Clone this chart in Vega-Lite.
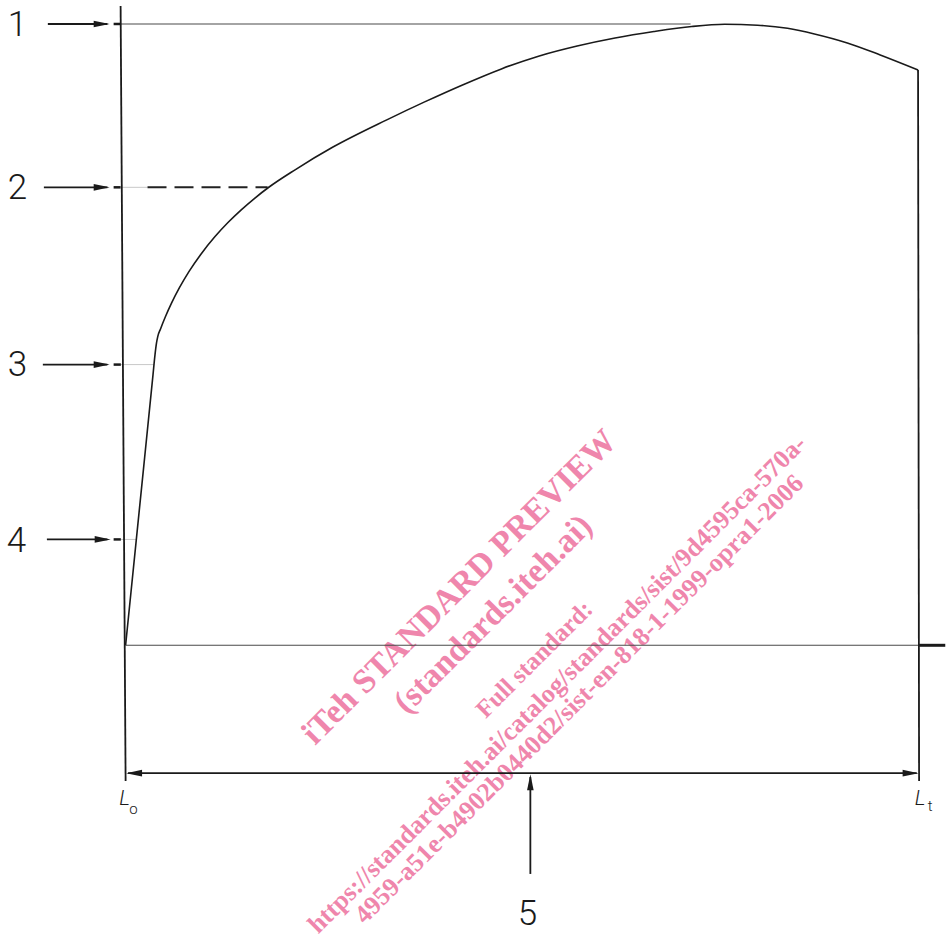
{
  "$schema": "https://vega.github.io/schema/vega-lite/v6.json",
  "width": 947,
  "height": 938,
  "autosize": {"type": "fit", "contains": "padding"},
  "padding": 0,
  "background": "white",
  "config": {"view": {"stroke": null}},
  "datasets": {
    "curve": [
      {"e": 0, "f": 0},
      {"e": 1.7, "f": 21.44},
      {"e": 3.455, "f": 43.57},
      {"e": 3.706, "f": 46.78},
      {"e": 3.9, "f": 48.7},
      {"e": 4.058, "f": 49.73},
      {"e": 4.4, "f": 50.92},
      {"e": 5.0, "f": 52.83},
      {"e": 5.8, "f": 55.1},
      {"e": 6.784, "f": 57.55},
      {"e": 8.0, "f": 60.18},
      {"e": 9.422, "f": 62.83},
      {"e": 11.269, "f": 65.78},
      {"e": 12.9, "f": 68.04},
      {"e": 14.573, "f": 70.09},
      {"e": 16.3, "f": 71.99},
      {"e": 18.003, "f": 73.68},
      {"e": 21.357, "f": 76.53},
      {"e": 26.131, "f": 80.19},
      {"e": 32.915, "f": 84.57},
      {"e": 37.688, "f": 87.46},
      {"e": 42.462, "f": 90.19},
      {"e": 47.362, "f": 92.77},
      {"e": 52.136, "f": 94.86},
      {"e": 56.91, "f": 96.46},
      {"e": 61.683, "f": 97.75},
      {"e": 66.583, "f": 98.79},
      {"e": 71.357, "f": 99.6},
      {"e": 75.503, "f": 99.95},
      {"e": 79.648, "f": 99.8},
      {"e": 83.417, "f": 99.3},
      {"e": 86.809, "f": 98.4},
      {"e": 90.955, "f": 96.95},
      {"e": 95.101, "f": 95.02},
      {"e": 99.874, "f": 92.6}
    ],
    "mainLines": [
      {"x1": -0.63, "y1": 102.9, "x2": 0, "y2": -21.86},
      {"x1": 99.87, "y1": 92.6, "x2": 100, "y2": -21.86},
      {"x1": -9.8, "y1": 100, "x2": -2.3, "y2": 100},
      {"x1": -10.3, "y1": 73.71, "x2": -2.3, "y2": 73.71},
      {"x1": -10.43, "y1": 45.18, "x2": -2.3, "y2": 45.18},
      {"x1": -9.92, "y1": 17.04, "x2": -2.3, "y2": 17.04},
      {"x1": 51.01, "y1": -21.2, "x2": 51.01, "y2": -36.8},
      {"x1": 0.3, "y1": -20.58, "x2": 99.7, "y2": -20.58}
    ],
    "thinLines": [
      {"x1": -0.63, "y1": 100, "x2": 71.2, "y2": 100},
      {"x1": 0, "y1": 0, "x2": 100, "y2": 0}
    ],
    "faintLines": [
      {"x1": -0.6, "y1": 73.71, "x2": 2.76, "y2": 73.71},
      {"x1": -0.6, "y1": 45.18, "x2": 3.58, "y2": 45.18},
      {"x1": -0.6, "y1": 17.04, "x2": 1.35, "y2": 17.04}
    ],
    "dashLines": [
      {"x1": 2.76, "y1": 73.71, "x2": 17.9, "y2": 73.71}
    ],
    "ticks": [
      {"x1": -1.51, "y1": 100, "x2": -0.63, "y2": 100},
      {"x1": -1.51, "y1": 73.71, "x2": -0.63, "y2": 73.71},
      {"x1": -1.51, "y1": 45.18, "x2": -0.6, "y2": 45.18},
      {"x1": -1.51, "y1": 17.04, "x2": -0.6, "y2": 17.04}
    ],
    "stub": [
      {"x1": 100, "y1": 0, "x2": 103.3, "y2": 0}
    ],
    "heads": [
      {"x": -2.01, "y": 100, "dir": "right"},
      {"x": -2.01, "y": 73.71, "dir": "right"},
      {"x": -2.01, "y": 45.18, "dir": "right"},
      {"x": -1.88, "y": 17.04, "dir": "right"},
      {"x": 0.06, "y": -20.58, "dir": "left"},
      {"x": 99.94, "y": -20.58, "dir": "right"},
      {"x": 51.01, "y": -20.74, "dir": "up"}
    ],
    "numbers": [
      {"x": -13.63, "y": 99.9, "t": "1"},
      {"x": -13.63, "y": 73.55, "t": "2"},
      {"x": -13.63, "y": 45.18, "t": "3"},
      {"x": -13.75, "y": 16.8, "t": "4"},
      {"x": 50.63, "y": -43.25, "t": "5"}
    ],
    "lengthL": [
      {"x": -0.13, "y": -24.8, "t": "L"},
      {"x": 100.13, "y": -24.8, "t": "L"}
    ],
    "lengthSub": [
      {"x": 1.0, "y": -26.37, "t": "o"},
      {"x": 101.38, "y": -25.8, "t": "t"}
    ],
    "wmBig": [
      {"x": 42.09, "y": 9.32, "t": "iTeh STANDARD PREVIEW"},
      {"x": 46.36, "y": 4.98, "t": "(standards.iteh.ai)"}
    ],
    "wmMid": [
      {"x": 51.51, "y": -2.25, "t": "Full standard:"}
    ],
    "wmSmall": [
      {"x": 54.4, "y": -6.27, "t": "https://standards.iteh.ai/catalog/standards/sist/9d4595ca-570a-"},
      {"x": 57.16, "y": -8.68, "t": "4959-a51e-b4902b0440d2/sist-en-818-1-1999-opra1-2006"}
    ]
  },
  "encoding": {
    "x": {"type": "quantitative", "scale": {"domain": [-15.83, 103.14], "nice": false, "zero": false}, "axis": null},
    "y": {"type": "quantitative", "scale": {"domain": [-46.95, 103.86], "nice": false, "zero": false}, "axis": null}
  },
  "layer": [
    {
      "data": {"name": "wmBig"},
      "mark": {"type": "text", "angle": -45, "font": "Liberation Serif", "fontWeight": "bold", "fontSize": 34, "color": "#ef86ac", "align": "center", "baseline": "middle"},
      "encoding": {"x": {"field": "x"}, "y": {"field": "y"}, "text": {"field": "t"}}
    },
    {
      "data": {"name": "wmMid"},
      "mark": {"type": "text", "angle": -45, "font": "Liberation Serif", "fontWeight": "bold", "fontSize": 25, "color": "#ef86ac", "align": "center", "baseline": "middle"},
      "encoding": {"x": {"field": "x"}, "y": {"field": "y"}, "text": {"field": "t"}}
    },
    {
      "data": {"name": "wmSmall"},
      "mark": {"type": "text", "angle": -45, "font": "Liberation Serif", "fontWeight": "bold", "fontSize": 26, "color": "#ef86ac", "align": "center", "baseline": "middle"},
      "encoding": {"x": {"field": "x"}, "y": {"field": "y"}, "text": {"field": "t"}}
    },
    {
      "data": {"name": "faintLines"},
      "mark": {"type": "rule", "color": "#c8c8c8", "strokeWidth": 1},
      "encoding": {"x": {"field": "x1"}, "y": {"field": "y1"}, "x2": {"field": "x2"}, "y2": {"field": "y2"}}
    },
    {
      "data": {"name": "thinLines"},
      "mark": {"type": "rule", "color": "#4a4a4a", "strokeWidth": 1.1},
      "encoding": {"x": {"field": "x1"}, "y": {"field": "y1"}, "x2": {"field": "x2"}, "y2": {"field": "y2"}}
    },
    {
      "data": {"name": "dashLines"},
      "mark": {"type": "rule", "color": "#222222", "strokeWidth": 2, "strokeDash": [19, 8]},
      "encoding": {"x": {"field": "x1"}, "y": {"field": "y1"}, "x2": {"field": "x2"}, "y2": {"field": "y2"}}
    },
    {
      "data": {"name": "ticks"},
      "mark": {"type": "rule", "color": "#1a1a1a", "strokeWidth": 2.5},
      "encoding": {"x": {"field": "x1"}, "y": {"field": "y1"}, "x2": {"field": "x2"}, "y2": {"field": "y2"}}
    },
    {
      "data": {"name": "stub"},
      "mark": {"type": "rule", "color": "#1a1a1a", "strokeWidth": 3},
      "encoding": {"x": {"field": "x1"}, "y": {"field": "y1"}, "x2": {"field": "x2"}, "y2": {"field": "y2"}}
    },
    {
      "data": {"name": "mainLines"},
      "mark": {"type": "rule", "color": "#1a1a1a", "strokeWidth": 1.8},
      "encoding": {"x": {"field": "x1"}, "y": {"field": "y1"}, "x2": {"field": "x2"}, "y2": {"field": "y2"}}
    },
    {
      "data": {"name": "curve"},
      "mark": {"type": "line", "color": "#1a1a1a", "strokeWidth": 1.6, "interpolate": "monotone"},
      "encoding": {"x": {"field": "e"}, "y": {"field": "f"}}
    },
    {
      "data": {"name": "heads"},
      "mark": {"type": "point", "filled": true, "color": "#1a1a1a", "opacity": 1, "size": 100, "strokeWidth": 0},
      "encoding": {
        "x": {"field": "x"},
        "y": {"field": "y"},
        "shape": {"field": "dir", "type": "nominal", "legend": null,
          "scale": {"domain": ["right", "left", "up"], "range": ["M0,0L-3.2,-0.66L-3.2,0.66Z", "M0,0L3.2,-0.66L3.2,0.66Z", "M0,0L-0.66,3.2L0.66,3.2Z"]}}
      }
    },
    {
      "data": {"name": "numbers"},
      "mark": {"type": "text", "font": "Roboto", "fontWeight": 300, "fontSize": 35, "color": "#1a1a1a", "align": "center", "baseline": "middle"},
      "encoding": {"x": {"field": "x"}, "y": {"field": "y"}, "text": {"field": "t"}}
    },
    {
      "data": {"name": "lengthL"},
      "mark": {"type": "text", "font": "Roboto", "fontStyle": "italic", "fontWeight": 300, "fontSize": 21, "color": "#1a1a1a", "align": "center", "baseline": "middle"},
      "encoding": {"x": {"field": "x"}, "y": {"field": "y"}, "text": {"field": "t"}}
    },
    {
      "data": {"name": "lengthSub"},
      "mark": {"type": "text", "font": "Roboto", "fontWeight": 300, "fontSize": 15, "color": "#1a1a1a", "align": "center", "baseline": "middle"},
      "encoding": {"x": {"field": "x"}, "y": {"field": "y"}, "text": {"field": "t"}}
    }
  ]
}
